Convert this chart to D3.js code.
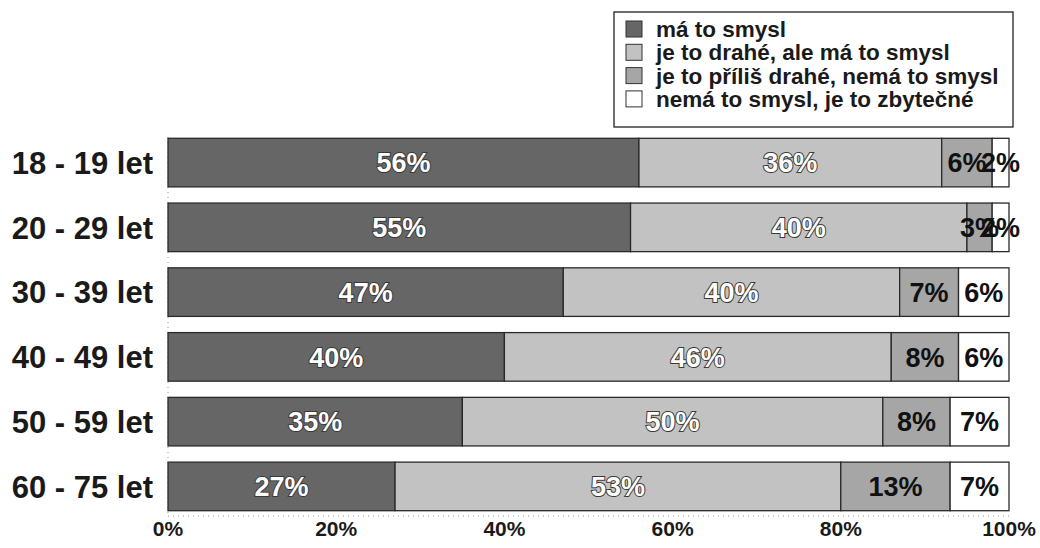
<!DOCTYPE html>
<html>
<head>
<meta charset="utf-8">
<script src="https://cdn.jsdelivr.net/npm/d3@7"></script>
<style>
  body { margin: 0; background: #fff; }
  text { font-family: "Liberation Sans", Arial, sans-serif; font-weight: bold; }
</style>
</head>
<body>
<div id="chart"></div>
<script>
// age groups (top to bottom)
var groups = ["18 - 19 let", "20 - 29 let", "30 - 39 let", "40 - 49 let", "50 - 59 let", "60 - 75 let"];
var seriesNames = ["má to smysl", "je to drahé, ale má to smysl", "je to příliš drahé, nemá to smysl", "nemá to smysl, je to zbytečné"];
// values per series, one per age group
var smysl     = [56, 55, 47, 40, 35, 27];
var drahe     = [36, 40, 40, 46, 50, 53];
var prilis    = [6, 3, 7, 8, 8, 13];
var zbytecne  = [2, 2, 6, 6, 7, 7];
var tickValues = [0, 20, 40, 60, 80, 100];

var colors = ["#666666", "#c2c2c2", "#a6a6a6", "#ffffff"];
var labelFill = ["#fff", "#fff", "#111", "#111"];

var width = 1040, height = 548;
var margin = {top: 137, right: 31, bottom: 38, left: 168};

var svg = d3.select("#chart").append("svg")
  .attr("width", width)
  .attr("height", height);

var x = d3.scaleLinear().domain([0, 100]).range([margin.left, width - margin.right]);
var y = d3.scaleBand().domain(groups).range([margin.top, 512]).paddingInner(0.25).paddingOuter(0.02);

// build stacked rows
var rows = groups.map(function(g, i) {
  return {group: g, a: smysl[i], b: drahe[i], c: prilis[i], d: zbytecne[i]};
});
var stack = d3.stack().keys(["a", "b", "c", "d"]);
var layers = stack(rows);

// dotted axis lines
svg.append("line")
  .attr("x1", x(0)).attr("x2", x(100))
  .attr("y1", 516).attr("y2", 516)
  .attr("stroke", "#999").attr("stroke-width", 1)
  .attr("stroke-dasharray", "1,4");
svg.append("line")
  .attr("x1", x(0)).attr("x2", x(0))
  .attr("y1", margin.top).attr("y2", 516)
  .attr("stroke", "#999").attr("stroke-width", 1)
  .attr("stroke-dasharray", "1,4");

var layer = svg.selectAll("g.layer")
  .data(layers)
  .enter().append("g")
  .attr("class", "layer")
  .attr("fill", function(d) { return colors[d.index]; });

layer.selectAll("rect")
  .data(function(d) { return d; })
  .enter().append("rect")
  .attr("x", function(d) { return x(d[0]); })
  .attr("y", function(d) { return y(d.data.group); })
  .attr("width", function(d) { return x(d[1]) - x(d[0]); })
  .attr("height", y.bandwidth())
  .attr("stroke", "#2a2a2a")
  .attr("stroke-width", 1.3);

// value labels
layers.forEach(function(L, k) {
  svg.selectAll(null)
    .data(L)
    .enter().append("text")
    .attr("x", function(d) { return (x(d[0]) + x(d[1])) / 2; })
    .attr("y", function(d) { return y(d.data.group) + y.bandwidth() / 2; })
    .attr("dy", "0.36em")
    .attr("text-anchor", "middle")
    .style("font-size", "27px")
    .attr("fill", labelFill[k])
    .attr("stroke", k < 2 ? "#3a3a3a" : "none")
    .attr("stroke-width", k < 2 ? 2 : 0)
    .attr("paint-order", "stroke")
    .text(function(d) { return (d[1] - d[0]) + "%"; });
});

// category labels
svg.selectAll("text.cat")
  .data(groups)
  .enter().append("text")
  .attr("class", "cat")
  .attr("x", 153)
  .attr("y", function(d) { return y(d) + y.bandwidth() / 2; })
  .attr("dy", "0.36em")
  .attr("text-anchor", "end")
  .style("font-size", "31px")
  .attr("fill", "#1a1a1a")
  .text(function(d) { return d; });

// x axis tick labels
svg.selectAll("text.tick")
  .data(tickValues)
  .enter().append("text")
  .attr("class", "tick")
  .attr("x", function(d) { return x(d); })
  .attr("y", 536)
  .attr("text-anchor", "middle")
  .style("font-size", "21px")
  .attr("fill", "#1a1a1a")
  .text(function(d) { return d + "%"; });

// legend
var legend = svg.append("g").attr("transform", "translate(614,12)");
legend.append("rect")
  .attr("width", 399).attr("height", 115)
  .attr("fill", "#fff")
  .attr("stroke", "#222").attr("stroke-width", 1.3);
var item = legend.selectAll("g.item")
  .data(seriesNames)
  .enter().append("g")
  .attr("class", "item")
  .attr("transform", function(d, i) { return "translate(12," + (9 + i * 23.3) + ")"; });
item.append("rect")
  .attr("width", 16).attr("height", 16)
  .attr("fill", function(d, i) { return colors[i]; })
  .attr("stroke", "#333").attr("stroke-width", 1);
item.append("text")
  .attr("x", 30)
  .attr("y", 16)
  .style("font-size", "22.5px")
  .attr("fill", "#1a1a1a")
  .text(function(d) { return d; });
</script>
</body>
</html>
